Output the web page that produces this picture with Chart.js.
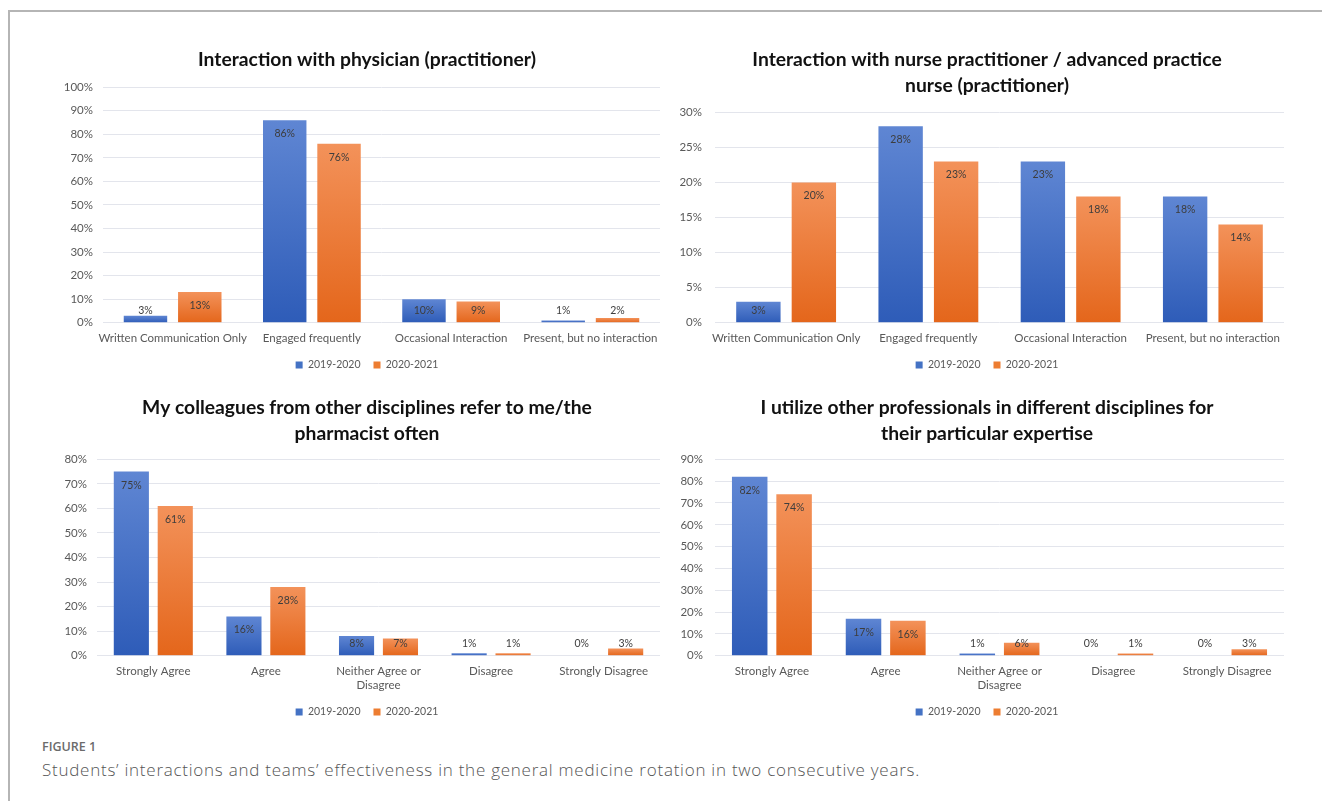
<!DOCTYPE html>
<html>
<head>
<meta charset="utf-8">
<script src="https://cdn.jsdelivr.net/npm/chart.js@4.4.0/dist/chart.umd.min.js"></script>
<style>
  html, body { margin: 0; padding: 0; background: #fff; width: 1322px; height: 801px; overflow: hidden; }
  .frame { position: absolute; left: 8px; top: 10px; width: 1330px; height: 810px;
           border-top: 2px solid #b5b5b5; border-left: 2px solid #b5b5b5; }
  canvas { position: absolute; }
  .fig { position: absolute; left: 42px; top: 738px; font: 600 12.5px "Open Sans", sans-serif; color: #6b6b6b; }
  .cap { position: absolute; left: 42px; top: 758px; font: 300 17px "Open Sans", sans-serif; letter-spacing: 0.75px; color: #555; }
</style>
</head>
<body>
<div class="frame"></div>
<canvas id="c1" width="618" height="360" style="left:58px;top:24px"></canvas>
<canvas id="c2" width="626" height="360" style="left:674px;top:24px"></canvas>
<canvas id="c3" width="618" height="350" style="left:58px;top:380px"></canvas>
<canvas id="c4" width="626" height="350" style="left:674px;top:380px"></canvas>
<div class="fig">FIGURE 1</div>
<div class="cap">Students’ interactions and teams’ effectiveness in the general medicine rotation in two consecutive years.</div>

<script>
// Survey years (legend)
const years = ['2019-2020', '2020-2021'];

// Category labels
const interactionCats = ['Written Communication Only', 'Engaged frequently', 'Occasional Interaction', 'Present, but no interaction'];
const agreementCats = ['Strongly Agree', 'Agree', ['Neither Agree or', 'Disagree'], 'Disagree', 'Strongly Disagree'];

// Percentages per category
const physician2019 = [3, 86, 10, 1];
const physician2020 = [13, 76, 9, 2];
const nurse2019 = [3, 28, 23, 18];
const nurse2020 = [20, 23, 18, 14];
const referral2019 = [75, 16, 8, 1, 0];
const referral2020 = [61, 28, 7, 1, 3];
const utilize2019 = [82, 17, 1, 0, 0];
const utilize2020 = [74, 16, 6, 1, 3];

// Value-axis ranges (max, step) in percent
const physicianAxis = [100, 10];
const nurseAxis = [30, 5];
const referralAxis = [80, 10];
const utilizeAxis = [90, 10];

const FONT = 'Lato, "Open Sans", sans-serif';
const BLUE = { top: '#5f86d3', bottom: '#2e5cb8', solid: '#4472c4' };
const ORANGE = { top: '#f3925a', bottom: '#e4661b', solid: '#ed7d31' };

// Vertical gradient per bar, from its value pixel down to the zero line
function barFill(c) {
  return ctx => {
    const chart = ctx.chart;
    if (ctx.type !== 'data' || !chart.chartArea) return c.solid;
    const y = chart.scales.y;
    const yTop = y.getPixelForValue(ctx.raw);
    const yBase = y.getPixelForValue(0);
    if (yBase - yTop < 1) return c.bottom;
    const g = chart.ctx.createLinearGradient(0, yTop, 0, yBase);
    g.addColorStop(0, c.top);
    g.addColorStop(1, c.bottom);
    return g;
  };
}

// Percent labels at the inside end of each bar (lifted above very short bars)
const valueLabels = {
  id: 'valueLabels',
  afterDatasetsDraw(chart) {
    const c = chart.ctx;
    c.save();
    c.font = '10.5px ' + FONT;
    c.fillStyle = '#3d3d3d';
    c.textAlign = 'center';
    c.textBaseline = 'middle';
    chart.data.datasets.forEach((ds, i) => {
      chart.getDatasetMeta(i).data.forEach((bar, j) => {
        const y = Math.min(bar.y + 13.5, bar.base - 12);
        c.fillText(ds.data[j] + '%', bar.x, y);
      });
    });
    c.restore();
  }
};

function makeChart(id, cfg) {
  return new Chart(document.getElementById(id), {
    type: 'bar',
    data: {
      labels: cfg.cats,
      datasets: [
        { label: years[0], data: cfg.a, backgroundColor: barFill(BLUE) },
        { label: years[1], data: cfg.b, backgroundColor: barFill(ORANGE) }
      ]
    },
    options: {
      responsive: false,
      animation: false,
      categoryPercentage: 0.78,
      barPercentage: 0.8,
      layout: { padding: { left: 0, right: 0, top: 0, bottom: cfg.bottom } },
      plugins: {
        tooltip: { enabled: false },
        title: {
          display: true,
          text: cfg.title,
          color: '#111',
          font: { family: FONT, size: 19.3, weight: 'bold', lineHeight: 1.33 },
          padding: { top: cfg.titleTop, bottom: cfg.titleBottom }
        },
        legend: {
          position: 'bottom',
          labels: {
            color: '#595959',
            font: { family: FONT, size: 10.5 },
            boxWidth: 7,
            boxHeight: 7,
            padding: 13,
            generateLabels: chart => chart.data.datasets.map((ds, i) => ({
              text: ds.label,
              fillStyle: [BLUE, ORANGE][i].solid,
              strokeStyle: [BLUE, ORANGE][i].solid,
              lineWidth: 0,
              hidden: false,
              datasetIndex: i,
              fontColor: '#595959'
            }))
          }
        }
      },
      scales: {
        x: {
          grid: { display: false, drawTicks: false },
          border: { display: false },
          ticks: {
            color: '#595959',
            font: { family: FONT, size: 11.5, lineHeight: '14px' },
            padding: 9,
            maxRotation: 0,
            minRotation: 0,
            autoSkip: false
          },
          afterFit(scale) { scale.height = cfg.xHeight; }
        },
        y: {
          min: 0,
          max: cfg.axis[0],
          grid: { color: '#e3e5ec', drawTicks: false, lineWidth: 1 },
          border: { display: false },
          ticks: {
            stepSize: cfg.axis[1],
            color: '#595959',
            font: { family: FONT, size: 11.5 },
            padding: cfg.tickPad,
            callback: v => v + '%'
          },
          afterFit(scale) { scale.width = cfg.axisWidth; }
        },
        // empty right-hand margin inside the plot frame
        margin: {
          type: 'linear',
          position: 'right',
          grid: { display: false, drawTicks: false },
          border: { display: false },
          ticks: { display: false },
          afterFit(scale) { scale.width = 16; }
        }
      }
    },
    plugins: [valueLabels]
  });
}

makeChart('c1', {
  title: 'Interaction with physician (practitioner)',
  cats: interactionCats, a: physician2019, b: physician2020, axis: physicianAxis,
  axisWidth: 45, tickPad: 10, bottom: 3.75, xHeight: 24, titleTop: 23, titleBottom: 14.5
});
makeChart('c2', {
  title: ['Interaction with nurse practitioner / advanced practice', 'nurse (practitioner)'],
  cats: interactionCats, a: nurse2019, b: nurse2020, axis: nurseAxis,
  axisWidth: 41, tickPad: 13, bottom: 3.75, xHeight: 24, titleTop: 23, titleBottom: 14
});
makeChart('c3', {
  title: ['My colleagues from other disciplines refer to me/the', 'pharmacist often'],
  cats: agreementCats, a: referral2019, b: referral2020, axis: referralAxis,
  axisWidth: 39, tickPad: 10, bottom: 2.75, xHeight: 38, titleTop: 15, titleBottom: 13
});
makeChart('c4', {
  title: ['I utilize other professionals in different disciplines for', 'their particular expertise'],
  cats: agreementCats, a: utilize2019, b: utilize2020, axis: utilizeAxis,
  axisWidth: 41, tickPad: 12, bottom: 2.75, xHeight: 38, titleTop: 15, titleBottom: 13
});
</script>
</body>
</html>
